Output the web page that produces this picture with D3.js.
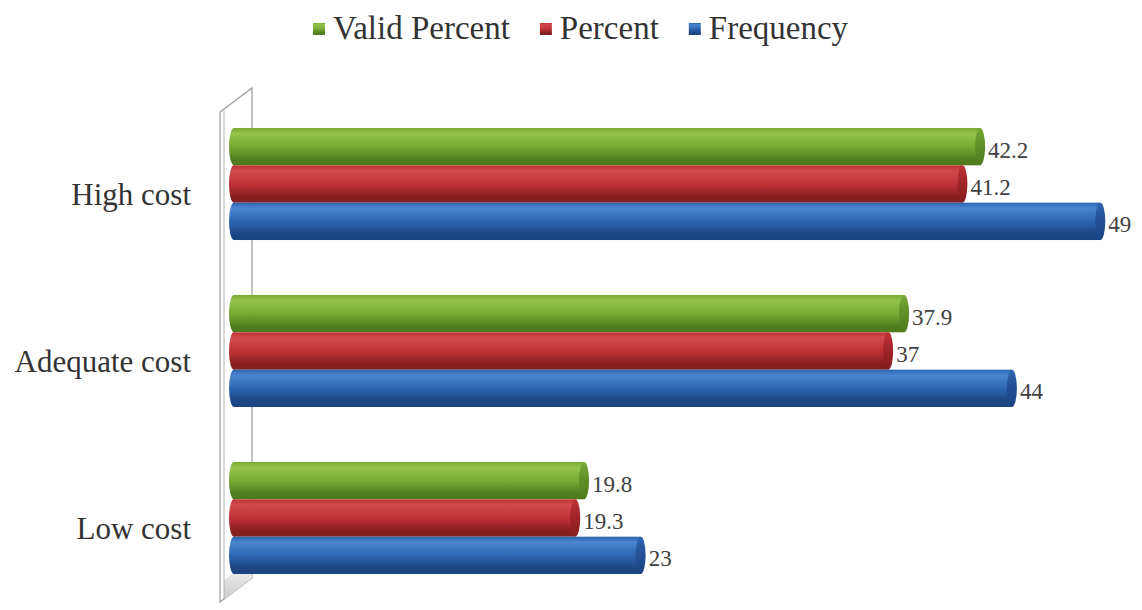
<!DOCTYPE html>
<html><head><meta charset="utf-8">
<script src="https://cdn.jsdelivr.net/npm/d3@7"></script>
<style>html,body{margin:0;padding:0;background:#fff;}svg{display:block;}</style>
</head><body>
<svg id="chart" width="1142" height="610"></svg>
<script>
const categories = ["High cost", "Adequate cost", "Low cost"];
const seriesNames = ["Valid Percent", "Percent", "Frequency"];
const validPercent = [42.2, 37.9, 19.8];
const percent = [41.2, 37, 19.3];
const frequency = [49, 44, 23];
const seriesValues = [validPercent, percent, frequency];
const seriesColors = [
  {light: "#94c24c", mid: "#78aa34", dark: "#4f7d1e", cap: "#5f8d28"},
  {light: "#d24a4c", mid: "#bf3236", dark: "#861d20", cap: "#9e2428"},
  {light: "#4a85d0", mid: "#2d66b1", dark: "#1b4583", cap: "#234f95"}
];

const svg = d3.select("#chart");
const defs = svg.append("defs");
seriesColors.forEach((c, i) => {
  const g = defs.append("linearGradient").attr("id", "grad" + i)
    .attr("x1", 0).attr("y1", 0).attr("x2", 0).attr("y2", 1);
  g.append("stop").attr("offset", "0%").attr("stop-color", c.mid);
  g.append("stop").attr("offset", "15%").attr("stop-color", c.light);
  g.append("stop").attr("offset", "50%").attr("stop-color", c.mid);
  g.append("stop").attr("offset", "85%").attr("stop-color", c.dark);
  g.append("stop").attr("offset", "100%").attr("stop-color", c.dark);
  const gc = defs.append("linearGradient").attr("id", "cap" + i)
    .attr("x1", 0).attr("y1", 0).attr("x2", 0).attr("y2", 1);
  gc.append("stop").attr("offset", "0%").attr("stop-color", c.mid);
  gc.append("stop").attr("offset", "50%").attr("stop-color", c.cap);
  gc.append("stop").attr("offset", "100%").attr("stop-color", c.dark);
});
const wallGrad = defs.append("linearGradient").attr("id", "wallg")
  .attr("x1", 0).attr("y1", 0).attr("x2", 0).attr("y2", 1);
wallGrad.append("stop").attr("offset", "0%").attr("stop-color", "#ffffff");
wallGrad.append("stop").attr("offset", "100%").attr("stop-color", "#c8c8c8");

const y = d3.scaleBand().domain(categories).range([100.5, 601.5])
  .paddingInner(0.329).paddingOuter(0.1645);
const ySub = d3.scaleBand().domain(seriesNames).range([0, y.bandwidth()]);
const x = d3.scaleLinear().domain([0, 50]).range([234, 1118]);

// wall
const wall = svg.append("g");
wall.append("polygon")
  .attr("points", "220,112 252,88 252,578 220,602")
  .attr("fill", "#ffffff").attr("stroke", "#9a9a9a").attr("stroke-width", 1.2);
wall.append("polygon")
  .attr("points", "224,580 252,558 252,578 224,600")
  .attr("fill", "url(#wallg)").attr("stroke", "none");
wall.append("line").attr("x1", 224).attr("x2", 224).attr("y1", 110).attr("y2", 600)
  .attr("stroke", "#b0b0b0").attr("stroke-width", 1);

// category labels
svg.append("g").selectAll("text").data(categories).join("text")
  .attr("x", 191)
  .attr("y", d => y(d) + y.bandwidth() / 2 + 21)
  .attr("text-anchor", "end")
  .attr("font-family", "'Liberation Serif', 'Times New Roman', serif")
  .attr("font-size", 31)
  .attr("fill", "#333")
  .text(d => d);

// bars
const rx = 5;
const barsG = svg.append("g");
categories.forEach((cat, ci) => {
  seriesNames.forEach((s, si) => {
    const v = seriesValues[si][ci];
    const y0 = y(cat) + ySub(s);
    const h = ySub.bandwidth();
    const g = barsG.append("g");
    g.append("ellipse").attr("cx", x(0)).attr("cy", y0 + h / 2)
      .attr("rx", rx).attr("ry", h / 2).attr("fill", "url(#grad" + si + ")");
    g.append("rect").attr("x", x(0)).attr("y", y0).attr("width", x(v) - x(0)).attr("height", h)
      .attr("fill", "url(#grad" + si + ")");
    g.append("ellipse").attr("cx", x(v)).attr("cy", y0 + h / 2)
      .attr("rx", rx).attr("ry", h / 2).attr("fill", "url(#cap" + si + ")");
    svg.append("text")
      .attr("x", x(v) + rx + 3)
      .attr("y", y0 + h / 2 + 11)
      .attr("font-family", "'Liberation Serif', 'Times New Roman', serif")
      .attr("font-size", 23)
      .attr("fill", "#404040")
      .text(String(v));
  });
});

// legend
const legend = svg.append("g");
let lx = 313;
seriesNames.forEach((s, i) => {
  legend.append("rect").attr("x", lx).attr("y", 23).attr("width", 12).attr("height", 12)
    .attr("fill", "url(#grad" + i + ")");
  const t = legend.append("text").attr("x", lx + 20).attr("y", 39)
    .attr("font-family", "'Liberation Serif', 'Times New Roman', serif")
    .attr("font-size", 33).attr("fill", "#333").text(s);
  lx += 20 + t.node().getComputedTextLength() + 30;
});
</script>
</body></html>
